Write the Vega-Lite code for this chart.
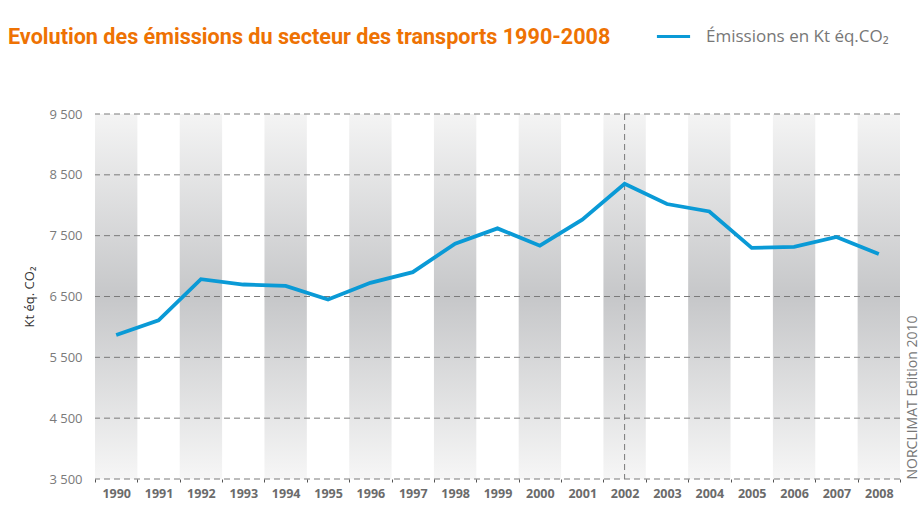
{
  "$schema": "https://vega.github.io/schema/vega-lite/v6.json",
  "width": 805,
  "height": 365,
  "autosize": {"type": "none"},
  "padding": {"left": 95, "top": 114, "right": 20, "bottom": 29},
  "background": "white",
  "title": {
    "text": "Evolution des émissions du secteur des transports 1990-2008",
    "anchor": "start",
    "frame": "group",
    "dx": -87,
    "offset": 0,
    "dy": 31,
    "font": "Roboto",
    "fontSize": 21.6,
    "fontWeight": "bold",
    "color": "#ee7203"
  },
  "config": {
    "view": {"stroke": null},
    "font": "Open Sans",
    "axisX": {
      "labelAngle": 0, "domain": false, "grid": false,
      "tickBand": "extent", "tickSize": 3, "tickColor": "#555555",
      "labelFont": "Open Sans", "labelFontWeight": "bold",
      "labelFontSize": 12.5, "labelColor": "#6b6b6b", "labelPadding": 5
    }
  },
  "datasets": {
    "emissions": [
      {"year": 1990, "value": 5866, "series": "Émissions en Kt éq.CO₂"},
      {"year": 1991, "value": 6107, "series": "Émissions en Kt éq.CO₂"},
      {"year": 1992, "value": 6784, "series": "Émissions en Kt éq.CO₂"},
      {"year": 1993, "value": 6697, "series": "Émissions en Kt éq.CO₂"},
      {"year": 1994, "value": 6675, "series": "Émissions en Kt éq.CO₂"},
      {"year": 1995, "value": 6450, "series": "Émissions en Kt éq.CO₂"},
      {"year": 1996, "value": 6725, "series": "Émissions en Kt éq.CO₂"},
      {"year": 1997, "value": 6900, "series": "Émissions en Kt éq.CO₂"},
      {"year": 1998, "value": 7369, "series": "Émissions en Kt éq.CO₂"},
      {"year": 1999, "value": 7620, "series": "Émissions en Kt éq.CO₂"},
      {"year": 2000, "value": 7336, "series": "Émissions en Kt éq.CO₂"},
      {"year": 2001, "value": 7762, "series": "Émissions en Kt éq.CO₂"},
      {"year": 2002, "value": 8352, "series": "Émissions en Kt éq.CO₂"},
      {"year": 2003, "value": 8020, "series": "Émissions en Kt éq.CO₂"},
      {"year": 2004, "value": 7898, "series": "Émissions en Kt éq.CO₂"},
      {"year": 2005, "value": 7298, "series": "Émissions en Kt éq.CO₂"},
      {"year": 2006, "value": 7315, "series": "Émissions en Kt éq.CO₂"},
      {"year": 2007, "value": 7479, "series": "Émissions en Kt éq.CO₂"},
      {"year": 2008, "value": 7200, "series": "Émissions en Kt éq.CO₂"}
    ],
    "grid": [
      {"v": 3500}, {"v": 4500}, {"v": 5500}, {"v": 6500},
      {"v": 7500}, {"v": 8500}, {"v": 9500}
    ],
    "marker": [{"year": 2002}]
  },
  "resolve": {"axis": {"y": "independent"}},
  "layer": [
    {
      "data": {"name": "emissions"},
      "transform": [{"filter": "datum.year % 2 == 0"}],
      "mark": {
        "type": "rect",
        "color": {
          "gradient": "linear",
          "x1": 0, "y1": 0, "x2": 0, "y2": 1,
          "stops": [
            {"offset": 0, "color": "#f4f4f4"},
            {"offset": 0.5, "color": "#c6c7c9"},
            {"offset": 1, "color": "#f6f6f6"}
          ]
        }
      },
      "encoding": {
        "x": {"field": "year", "type": "ordinal", "title": null,
              "scale": {"paddingInner": 0, "paddingOuter": 0}},
        "y": {"datum": 9500, "type": "quantitative", "axis": null,
              "scale": {"domain": [3500, 9500], "nice": false}},
        "y2": {"datum": 3500}
      }
    },
    {
      "data": {"name": "grid"},
      "mark": {"type": "rule", "color": "#7a7a7a", "strokeWidth": 1, "strokeDash": [6, 4]},
      "encoding": {
        "y": {
          "field": "v", "type": "quantitative",
          "axis": {
            "orient": "right",
            "labels": false, "ticks": false, "domain": false, "grid": false,
            "title": "NORCLIMAT Edition 2010",
            "titleAngle": 270,
            "titleAnchor": "start",
            "titleAlign": "left",
            "titleBaseline": "middle",
            "titleX": 12,
            "titleY": 365,
            "titleFont": "Open Sans",
            "titleFontSize": 14,
            "titleFontWeight": "normal",
            "titleColor": "#777777"
          }
        }
      }
    },
    {
      "data": {"name": "marker"},
      "mark": {"type": "rule", "color": "#7a7a7a", "strokeWidth": 1, "strokeDash": [6, 4]},
      "encoding": {
        "x": {"field": "year", "type": "ordinal", "title": null},
        "y": {"datum": 9500, "type": "quantitative", "axis": null},
        "y2": {"datum": 3500}
      }
    },
    {
      "data": {"name": "emissions"},
      "mark": {"type": "line", "strokeWidth": 3.8, "strokeJoin": "miter"},
      "encoding": {
        "x": {"field": "year", "type": "ordinal", "title": null},
        "y": {
          "field": "value", "type": "quantitative",
          "axis": {
            "orient": "left",
            "values": [3500, 4500, 5500, 6500, 7500, 8500, 9500],
            "labelExpr": "replace(format(datum.value, ','), ',', ' ')",
            "ticks": false, "domain": false, "grid": false,
            "labelFont": "Open Sans", "labelFontSize": 13,
            "labelColor": "#7a7a7a", "labelPadding": 13,
            "title": "Kt éq. CO₂",
            "titleFont": "Open Sans", "titleFontSize": 13,
            "titleFontWeight": "normal", "titleColor": "#333333",
            "titlePadding": 12
          }
        },
        "color": {
          "field": "series", "type": "nominal",
          "scale": {"range": ["#0a9ad6"]},
          "legend": {
            "title": null,
            "orient": "none",
            "legendX": 560,
            "legendY": -96,
            "symbolType": "stroke",
            "symbolSize": 1100,
            "symbolStrokeWidth": 3,
            "labelFont": "Open Sans",
            "labelFontSize": 17,
            "labelColor": "#777777",
            "labelOffset": 14,
            "labelLimit": 400,
            "padding": 0
          }
        }
      }
    }
  ]
}
